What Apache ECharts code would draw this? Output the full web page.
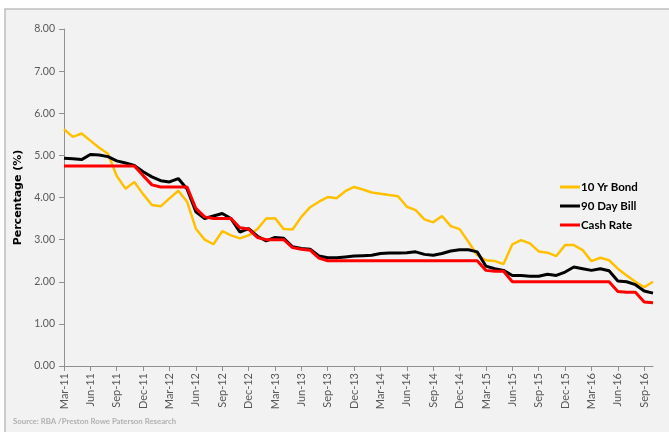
<!DOCTYPE html>
<html>
<head>
<meta charset="utf-8">
<script src="https://cdn.jsdelivr.net/npm/echarts@6/dist/echarts.min.js"></script>
<style>
  html, body { margin: 0; padding: 0; background: #ffffff; }
  #chart { width: 669px; height: 432px; }
</style>
</head>
<body>
<div id="chart"></div>
<script>
// months Mar-11 .. Oct-16
var monthNames = ['Jan', 'Feb', 'Mar', 'Apr', 'May', 'Jun', 'Jul', 'Aug', 'Sep', 'Oct', 'Nov', 'Dec'];
var months = [];
for (var y = 11; y <= 16; y++) {
  for (var m = 0; m < 12; m++) {
    if (y === 11 && m < 2) continue;
    if (y === 16 && m > 9) continue;
    months.push(monthNames[m] + '-' + y);
  }
}

var bond10 = [5.62, 5.44, 5.52, 5.35, 5.18, 5.04, 4.51, 4.21, 4.37, 4.08,
  3.82, 3.79, 3.98, 4.16, 3.90, 3.26, 3.00, 2.89, 3.20, 3.10,
  3.03, 3.10, 3.25, 3.50, 3.51, 3.25, 3.24, 3.54, 3.77, 3.90,
  4.01, 3.98, 4.15, 4.25, 4.19, 4.12, 4.09, 4.06, 4.03, 3.78,
  3.70, 3.48, 3.41, 3.56, 3.32, 3.25, 2.95, 2.63, 2.51, 2.49,
  2.42, 2.89, 2.99, 2.91, 2.72, 2.69, 2.61, 2.87, 2.87, 2.75,
  2.49, 2.57, 2.51, 2.31, 2.15, 2.00, 1.87, 2.00];

var bill90 = [4.93, 4.92, 4.90, 5.02, 5.01, 4.97, 4.87, 4.82, 4.76, 4.61,
  4.49, 4.40, 4.37, 4.45, 4.20, 3.66, 3.50, 3.56, 3.62, 3.50,
  3.18, 3.26, 3.08, 2.97, 3.05, 3.03, 2.83, 2.79, 2.77, 2.61,
  2.57, 2.57, 2.59, 2.61, 2.62, 2.63, 2.67, 2.68, 2.68, 2.69,
  2.71, 2.65, 2.63, 2.67, 2.73, 2.76, 2.76, 2.71, 2.37, 2.31,
  2.27, 2.15, 2.15, 2.13, 2.13, 2.18, 2.15, 2.23, 2.35, 2.31,
  2.27, 2.31, 2.26, 2.02, 2.00, 1.93, 1.78, 1.73];

var cashRate = [4.75, 4.75, 4.75, 4.75, 4.75, 4.75, 4.75, 4.75, 4.75, 4.52,
  4.30, 4.25, 4.25, 4.25, 4.25, 3.74, 3.54, 3.50, 3.50, 3.50,
  3.28, 3.25, 3.05, 3.00, 3.00, 3.00, 2.81, 2.77, 2.75, 2.56,
  2.50, 2.50, 2.50, 2.50, 2.50, 2.50, 2.50, 2.50, 2.50, 2.50,
  2.50, 2.50, 2.50, 2.50, 2.50, 2.50, 2.50, 2.50, 2.27, 2.25,
  2.25, 2.00, 2.00, 2.00, 2.00, 2.00, 2.00, 2.00, 2.00, 2.00,
  2.00, 2.00, 2.00, 1.77, 1.75, 1.75, 1.52, 1.50];

var font = 'Lato';
var myChart = echarts.init(document.getElementById('chart'));
var option = {
  backgroundColor: '#ffffff',
  animation: false,
  textStyle: { fontFamily: font },
  graphic: [
    {
      type: 'rect',
      z: -10,
      shape: { x: 5, y: 9, width: 700, height: 500 },
      style: { fill: '#f2f2f2', stroke: '#bfbfbf', lineWidth: 1.5 }
    },
    {
      type: 'text',
      left: 13,
      top: 417,
      style: {
        text: 'Source: RBA /Preston Rowe Paterson Research',
        fill: '#b0b0b0',
        font: 'bold 7.8px ' + font
      }
    }
  ],
  grid: { left: 64, top: 29, right: 16, bottom: 66, containLabel: false },
  legend: {
    orient: 'vertical',
    left: 555,
    top: 176,
    icon: 'rect',
    itemWidth: 20,
    itemHeight: 3,
    itemGap: 7,
    textStyle: { color: '#000', fontWeight: 'bold', fontSize: 11.5, fontFamily: font, padding: [0, 0, 0, -4] },
    data: ['10 Yr Bond', '90 Day Bill', 'Cash Rate']
  },
  xAxis: {
    type: 'category',
    boundaryGap: false,
    data: months,
    axisLine: { lineStyle: { color: '#909090', width: 1 } },
    axisTick: { interval: 2, length: 5, lineStyle: { color: '#909090' } },
    axisLabel: { interval: 2, rotate: 90, color: '#595959', fontSize: 11, margin: 7 },
    splitLine: { show: false }
  },
  yAxis: {
    type: 'value',
    min: 0,
    max: 8,
    interval: 1,
    name: 'Percentage (%)',
    nameLocation: 'middle',
    nameGap: 37,
    nameTextStyle: { color: '#000', fontWeight: 'bold', fontSize: 11, fontFamily: 'DejaVu Sans' },
    axisLine: { show: true, lineStyle: { color: '#909090', width: 1 } },
    axisTick: { show: true, length: 5, lineStyle: { color: '#909090' } },
    axisLabel: {
      color: '#595959',
      fontSize: 10.5,
      margin: 9,
      formatter: function (v) { return v.toFixed(2); }
    },
    splitLine: { show: false }
  },
  series: [
    {
      name: '10 Yr Bond', type: 'line', data: bond10, showSymbol: false,
      lineStyle: { color: '#ffc000', width: 2.5 }, itemStyle: { color: '#ffc000' }, z: 2
    },
    {
      name: '90 Day Bill', type: 'line', data: bill90, showSymbol: false,
      lineStyle: { color: '#000000', width: 3 }, itemStyle: { color: '#000000' }, z: 3
    },
    {
      name: 'Cash Rate', type: 'line', data: cashRate, showSymbol: false,
      lineStyle: { color: '#ff0000', width: 3 }, itemStyle: { color: '#ff0000' }, z: 4
    }
  ]
};
myChart.setOption(option);
window.addEventListener('resize', function () {
  myChart.resize();
});
</script>
</body>
</html>
